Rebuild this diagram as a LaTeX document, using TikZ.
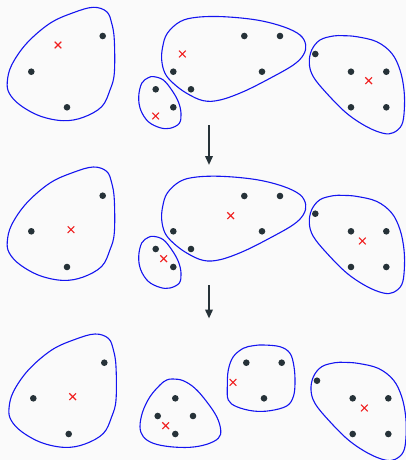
\documentclass[tikz,border=0pt]{standalone}
\usetikzlibrary{arrows.meta,shapes.misc}
\definecolor{bgc}{RGB}{250,250,250}
\definecolor{dotc}{RGB}{38,50,56}
\definecolor{blobc}{RGB}{20,20,240}
\definecolor{crossc}{RGB}{240,30,30}
\tikzset{
  blob/.style={draw=blobc,line width=1.1pt},
  dot/.style={circle,fill=dotc,inner sep=0pt,minimum size=6.6pt},
  cent/.style={cross out,draw=crossc,line width=1.1pt,inner sep=0pt,minimum size=5.6pt},
  flow/.style={draw=dotc,line width=2pt,-{Triangle[length=9pt,width=7.5pt]}}
}
\newcommand\shapeA{plot[smooth cycle,tension=0.6] coordinates {(93.3,7.3) (106.7,11.7) (111.7,23.3) (114.3,40) (114.3,73.3) (110,90) (101.7,106.7) (83.3,117.3) (63.3,120.7) (40,116) (20,105) (9.3,93.3) (7.3,81.7) (11.7,65) (26.7,43.3) (50,23.3) (73.3,12.7)}}
\newcommand\shapeB{plot[smooth cycle,tension=0.6] coordinates {(154,76.7) (163.3,80) (171.7,90) (178.3,101.7) (181,113.3) (179.3,123.3) (170,128.3) (160,127.7) (148.3,121.7) (140.7,110) (138.7,96.7) (141.7,83.3) (148.3,77.7)}}
\newcommand\shapeC{plot[smooth cycle,tension=0.6] coordinates {(196.7,17.3) (223.3,16.7) (256.7,20) (283.3,26.7) (300,35) (305.7,45) (303.3,55) (293.3,65) (270,78.3) (243.3,91.7) (220,100) (203.3,100.7) (186.7,93.3) (173.3,83.3) (165,73.3) (161.7,60) (162.7,46.7) (167.3,33.3) (180,21.7)}}
\newcommand\shapeD{plot[smooth cycle,tension=0.6] coordinates {(356.7,36.7) (376.7,41.7) (391.7,53.3) (400,70) (404,90) (404.3,110) (401.7,125) (393.3,132.7) (383.3,133.3) (366.7,126.7) (346.7,113.3) (326.7,93.3) (313.3,76.7) (309.3,63.3) (311.7,50) (320,40) (333.3,36) (343.3,35.7)}}
\newcommand\shapeE{plot[smooth cycle,tension=0.6] coordinates {(173.3,379) (183.3,380.7) (195,388.3) (206.7,401.7) (216.7,416.7) (220.7,430) (218.3,438.3) (206.7,444.3) (190,447.3) (170,446.7) (153.3,443.3) (143.3,436.7) (140,426.7) (142.7,411.7) (150,396.7) (160,385) (166.7,380)}}
\newcommand\shapeF{plot[smooth cycle,tension=0.6] coordinates {(263.3,345) (280,346.7) (290,353.3) (294,366.7) (295,383.3) (293.3,396.7) (286.7,406) (270,410.7) (253.3,411) (236.7,406.7) (228.3,400) (227.3,386.7) (228.3,370) (233.3,356.7) (243.3,348.3) (253.3,345.7)}}
\begin{document}
\begin{tikzpicture}[x=1pt,y=-1pt]
\fill[bgc] (0,0) rectangle (406,460);
\useasboundingbox (0,0) rectangle (406,460);
% ---------- panel 1 ----------
\draw[blob] \shapeA;
\draw[blob] \shapeB;
\draw[blob] \shapeC;
\draw[blob] \shapeD;
\node[dot] (a1) at (102.7,36) {};
\node[dot] (a2) at (31.3,71.7) {};
\node[dot] (a3) at (67,107.3) {};
\node[cent] (ca1) at (58,45) {};
\node[dot] (b1) at (155.7,89.3) {};
\node[dot] (b2) at (173.3,107.3) {};
\node[cent] (cb1) at (155.7,116) {};
\node[dot] (c1) at (244.3,36) {};
\node[dot] (c2) at (280,36) {};
\node[dot] (c3) at (173.3,71.7) {};
\node[dot] (c4) at (262,71.7) {};
\node[dot] (c5) at (191,89.3) {};
\node[cent] (cc1) at (182.3,54) {};
\node[dot] (d1) at (315.3,54) {};
\node[dot] (d2) at (351,71.7) {};
\node[dot] (d3) at (386.3,71.7) {};
\node[dot] (d4) at (351,107.3) {};
\node[dot] (d5) at (386.3,107.3) {};
\node[cent] (cd1) at (368.7,80.7) {};
% ---------- arrow 1 ----------
\coordinate (s1) at (209,125);
\coordinate (e1) at (209,165);
\draw[flow] (s1) -- (e1);
% ---------- panel 2 ----------
\begin{scope}[shift={(0,159.7)}]
\draw[blob] \shapeA;
\draw[blob] \shapeB;
\draw[blob] \shapeC;
\draw[blob] \shapeD;
\end{scope}
\node[dot] (pa1) at (102.7,195.7) {};
\node[dot] (pa2) at (31.3,231.3) {};
\node[dot] (pa3) at (67,267) {};
\node[cent] (pca) at (71,229.7) {};
\node[dot] (pb1) at (155.7,249) {};
\node[dot] (pb2) at (173.3,267) {};
\node[cent] (pcb) at (163.7,258.7) {};
\node[dot] (pc1) at (244.3,196) {};
\node[dot] (pc2) at (280,196) {};
\node[dot] (pc3) at (173.3,231.3) {};
\node[dot] (pc4) at (262,231.3) {};
\node[dot] (pc5) at (191,249) {};
\node[cent] (pcc) at (230.7,215.7) {};
\node[dot] (pd1) at (315.3,213.7) {};
\node[dot] (pd2) at (351,231.3) {};
\node[dot] (pd3) at (386.3,231.3) {};
\node[dot] (pd4) at (351,267) {};
\node[dot] (pd5) at (386.3,267) {};
\node[cent] (pcd) at (362.3,241) {};
% ---------- arrow 2 ----------
\coordinate (s2) at (209,285);
\coordinate (e2) at (209,318.5);
\draw[flow] (s2) -- (e2);
% ---------- panel 3 ----------
\begin{scope}[shift={(1.7,326.7)}]
\draw[blob] \shapeA;
\draw[blob] \shapeD;
\end{scope}
\draw[blob] \shapeE;
\draw[blob] \shapeF;
\node[dot] (qa1) at (104.3,362.7) {};
\node[dot] (qa2) at (33.3,398.3) {};
\node[dot] (qa3) at (68.7,434) {};
\node[cent] (qca) at (72.7,396.7) {};
\node[dot] (qe1) at (175.3,398.3) {};
\node[dot] (qe2) at (157.7,416) {};
\node[dot] (qe3) at (193,416) {};
\node[dot] (qe4) at (175.3,434) {};
\node[cent] (qce) at (165.7,425.7) {};
\node[dot] (qf1) at (246.3,362.7) {};
\node[dot] (qf2) at (281.7,362.7) {};
\node[dot] (qf3) at (264,398.3) {};
\node[cent] (qcf) at (233,382.3) {};
\node[dot] (qd1) at (317,380.7) {};
\node[dot] (qd2) at (352.7,398.3) {};
\node[dot] (qd3) at (388.3,398.3) {};
\node[dot] (qd4) at (352.7,434) {};
\node[dot] (qd5) at (388.3,434) {};
\node[cent] (qcd) at (364.3,408) {};
\end{tikzpicture}
\end{document}
